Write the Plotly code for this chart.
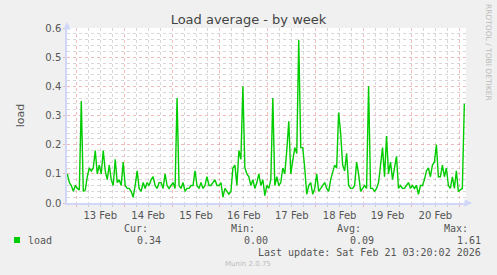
import pandas as pd
import plotly.graph_objects as go

# ---- data (hourly averages) ----
start_time = "2026-02-12 19:30"
load_feb12 = [0.10, 0.07, 0.06, 0.04, 0.06]
load_feb13 = [0.05, 0.045, 0.35, 0.04, 0.045, 0.09, 0.12, 0.11, 0.12, 0.18, 0.10, 0.13,
              0.10, 0.18, 0.11, 0.08, 0.13, 0.08, 0.06, 0.15, 0.07, 0.08, 0.06, 0.14]
load_feb14 = [0.06, 0.05, 0.05, 0.04, 0.02, 0.06, 0.11, 0.05, 0.04, 0.07, 0.05, 0.07,
              0.06, 0.08, 0.09, 0.06, 0.05, 0.07, 0.07, 0.05, 0.10, 0.06, 0.05, 0.06]
load_feb15 = [0.07, 0.05, 0.36, 0.06, 0.05, 0.07, 0.04, 0.05, 0.05, 0.06, 0.06, 0.11,
              0.06, 0.05, 0.07, 0.05, 0.06, 0.09, 0.06, 0.06, 0.07, 0.08, 0.06, 0.06]
load_feb16 = [0.07, 0.02, 0.05, 0.04, 0.03, 0.04, 0.12, 0.13, 0.06, 0.18, 0.15, 0.40,
              0.12, 0.10, 0.09, 0.06, 0.08, 0.05, 0.07, 0.10, 0.06, 0.08, 0.025, 0.06]
load_feb17 = [0.05, 0.08, 0.36, 0.06, 0.09, 0.06, 0.07, 0.12, 0.10, 0.18, 0.28, 0.10,
              0.15, 0.19, 0.17, 0.56, 0.19, 0.19, 0.12, 0.03, 0.06, 0.07, 0.03, 0.05]
load_feb18 = [0.10, 0.04, 0.05, 0.06, 0.07, 0.05, 0.04, 0.08, 0.11, 0.13, 0.12, 0.31,
              0.24, 0.13, 0.11, 0.17, 0.06, 0.05, 0.05, 0.06, 0.14, 0.10, 0.04, 0.05]
load_feb19 = [0.06, 0.05, 0.40, 0.05, 0.05, 0.04, 0.05, 0.07, 0.14, 0.19, 0.09, 0.23,
              0.10, 0.14, 0.08, 0.12, 0.16, 0.05, 0.06, 0.05, 0.05, 0.06, 0.07, 0.05]
load_feb20 = [0.06, 0.05, 0.06, 0.03, 0.06, 0.06, 0.08, 0.11, 0.12, 0.09, 0.13, 0.14,
              0.20, 0.09, 0.09, 0.13, 0.09, 0.12, 0.06, 0.05, 0.09, 0.05, 0.11, 0.04]
load_feb21 = [0.045, 0.05, 0.34]

x_range = ["2026-02-12 19:20", "2026-02-21 03:20"]
y_range = [0, 0.6]
stat_labels = ["Cur:", "Min:", "Avg:", "Max:"]
stat_values = ["0.34", "0.00", "0.09", "1.61"]
series_name = "load"
title_text = "Load average - by week"
last_update = "Last update: Sat Feb 21 03:20:02 2026"
footer = "Munin 2.0.75"
side_text = "RRDTOOL / TOBI OETIKER"

values = (load_feb12 + load_feb13 + load_feb14 + load_feb15 + load_feb16 +
          load_feb17 + load_feb18 + load_feb19 + load_feb20 + load_feb21)
times = pd.date_range(start_time, periods=len(values), freq="h")

# ---- figure geometry (pixels) ----
W, H = 497, 275
L, R, T, B = 67, 466, 28, 203

def px(x):
    return (x - L) / (R - L)

def py(y):
    return (B - y) / (B - T)

GREEN = "#00CC00"
FONT = "DejaVu Sans"
MONO = "DejaVu Sans Mono"
MAJ = "rgba(230,120,120,0.5)"
MIN = "rgba(160,160,160,0.42)"
AXIS = "#CFD6F8"

fig = go.Figure()
fig.add_trace(go.Scatter(x=times, y=values, mode="lines",
                         line=dict(color=GREEN, width=1.4), showlegend=False,
                         hoverinfo="skip"))

fig.update_layout(
    width=W, height=H,
    margin=dict(l=L, r=W - R, t=T, b=H - B),
    paper_bgcolor="#F0F0F0", plot_bgcolor="#FFFFFF",
    font=dict(family=FONT, size=10, color="#555555"),
    showlegend=False,
    title=dict(text=title_text, x=0.5, xanchor="center", y=1 - 19 / H, yanchor="middle",
               font=dict(family=FONT, size=13, color="#444444")),
)

fig.update_xaxes(
    type="date", range=x_range,
    dtick=86400000, tick0="2026-02-13 00:00", tickformat="%d %b",
    ticklabelmode="period",
    showgrid=True, gridcolor=MAJ, griddash="dot", gridwidth=1,
    ticks="outside", ticklen=2, tickcolor=MAJ,
    showline=True, linecolor=AXIS, linewidth=1.5,
    zeroline=False,
    tickfont=dict(family=FONT, size=10, color="#555555"),
    minor=dict(dtick=6 * 3600 * 1000, tick0="2026-02-13 00:00", showgrid=True,
               gridcolor=MIN, griddash="dot", gridwidth=1,
               ticks="outside", ticklen=2, tickcolor=MIN),
)
fig.update_yaxes(
    range=y_range, dtick=0.1, tick0=0, tickformat=".1f",
    showgrid=True, gridcolor=MAJ, griddash="dot", gridwidth=1,
    ticks="outside", ticklen=2, tickcolor=MAJ,
    showline=True, linecolor=AXIS, linewidth=1.5,
    zeroline=False,
    tickfont=dict(family=FONT, size=10, color="#555555"),
    minor=dict(dtick=0.02, showgrid=True, gridcolor=MIN, griddash="dot", gridwidth=1),
    title=dict(text=series_name, font=dict(family=FONT, size=11, color="#555555"), standoff=18),
)

ann = []
# axis arrows
ann.append(dict(xref="paper", yref="paper", x=px(L), y=py(22), ax=0, ay=8,
                showarrow=True, arrowhead=2, arrowsize=1, arrowwidth=1.5,
                arrowcolor=AXIS, text=""))
ann.append(dict(xref="paper", yref="paper", x=px(472), y=py(B), ax=-8, ay=0,
                showarrow=True, arrowhead=2, arrowsize=1, arrowwidth=1.5,
                arrowcolor=AXIS, text=""))
# side text
ann.append(dict(xref="paper", yref="paper", x=px(489), y=py(52), text=side_text,
                textangle=90, showarrow=False, xanchor="center", yanchor="middle",
                font=dict(family=FONT, size=7.5, color="#BBBBBB")))
# legend
label_right = [150, 257, 363, 470]
value_right = [163, 270, 376, 483]
for lab, xr in zip(stat_labels, label_right):
    ann.append(dict(xref="paper", yref="paper", x=px(xr), y=py(228), text=lab,
                    xanchor="right", yanchor="middle", showarrow=False,
                    font=dict(family=MONO, size=10, color="#555555")))
for val, xr in zip(stat_values, value_right):
    ann.append(dict(xref="paper", yref="paper", x=px(xr), y=py(240), text=val,
                    xanchor="right", yanchor="middle", showarrow=False,
                    font=dict(family=MONO, size=10, color="#555555")))
ann.append(dict(xref="paper", yref="paper", x=px(26), y=py(240), text=series_name,
                xanchor="left", yanchor="middle", showarrow=False,
                font=dict(family=MONO, size=10, color="#555555")))
ann.append(dict(xref="paper", yref="paper", x=px(483), y=py(252), text=last_update,
                xanchor="right", yanchor="middle", showarrow=False,
                font=dict(family=MONO, size=10, color="#555555")))
ann.append(dict(xref="paper", yref="paper", x=px(248), y=py(264), text=footer,
                xanchor="center", yanchor="middle", showarrow=False,
                font=dict(family=FONT, size=7, color="#BBBBBB")))
fig.update_layout(annotations=ann)

fig.add_shape(type="rect", xref="paper", yref="paper",
              x0=px(14), x1=px(20), y0=py(237), y1=py(243),
              fillcolor=GREEN, line=dict(width=0))

fig.write_html("out.html")
